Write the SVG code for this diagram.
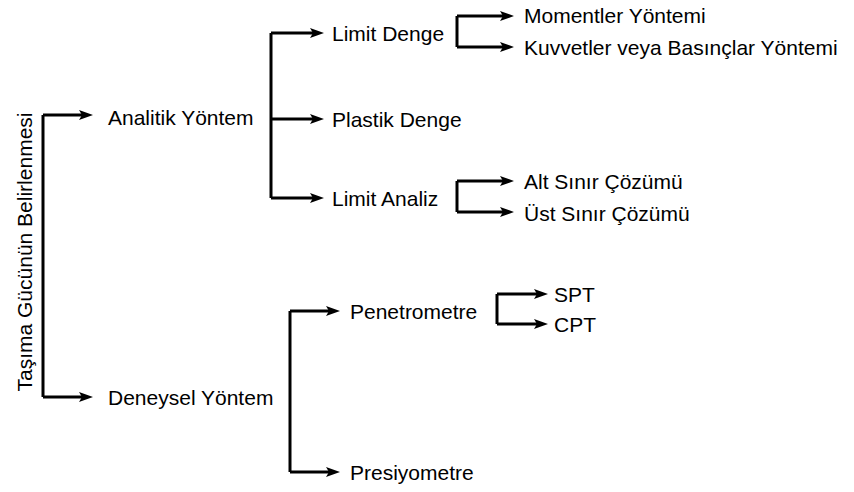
<svg xmlns="http://www.w3.org/2000/svg" width="854" height="492" viewBox="0 0 854 492">
<style>
text{font-family:"Liberation Sans",Arial,sans-serif;font-size:21px;fill:#000}
.c path{fill:none;stroke:#000;stroke-width:3}
.c path.a{marker-end:url(#ah)}
</style>
<defs>
<marker id="ah" markerUnits="userSpaceOnUse" markerWidth="14" markerHeight="10" refX="3" refY="5" orient="auto" overflow="visible"><path d="M0,0 L14,5 L0,10 L3,5 z" fill="#000"/></marker>
</defs>
<rect width="854" height="492" fill="#fff"/>
<g id="connectors" class="c">
<path d="M43,115 V397"/>
<path class="a" d="M43,115 H82"/>
<path class="a" d="M43,397 H82"/>
<path d="M271,33 V198"/>
<path class="a" d="M271,33 H313"/>
<path class="a" d="M271,119 H313"/>
<path class="a" d="M271,198 H313"/>
<path d="M457,16 V47"/>
<path class="a" d="M457,16 H503"/>
<path class="a" d="M457,47 H503"/>
<path d="M457,181 V212"/>
<path class="a" d="M457,181 H503"/>
<path class="a" d="M457,212 H503"/>
<path d="M290,311 V472"/>
<path class="a" d="M290,311 H329"/>
<path class="a" d="M290,472 H329"/>
<path d="M497,294 V324"/>
<path class="a" d="M497,294 H537"/>
<path class="a" d="M497,324 H537"/>
</g>
<g id="root"><text transform="translate(32,252) rotate(-90)" text-anchor="middle">Taşıma Gücünün Belirlenmesi</text></g>
<g id="analitik"><text x="108" y="125">Analitik Yöntem</text></g>
<g id="deneysel"><text x="108" y="405">Deneysel Yöntem</text></g>
<g id="limit-denge"><text x="332" y="41">Limit Denge</text></g>
<g id="plastik-denge"><text x="332" y="127">Plastik Denge</text></g>
<g id="limit-analiz"><text x="332" y="206">Limit Analiz</text></g>
<g id="momentler"><text x="524" y="23">Momentler Yöntemi</text></g>
<g id="kuvvetler"><text x="524" y="55">Kuvvetler veya Basınçlar Yöntemi</text></g>
<g id="alt-sinir"><text x="524" y="189">Alt Sınır Çözümü</text></g>
<g id="ust-sinir"><text x="524" y="221">Üst Sınır Çözümü</text></g>
<g id="penetrometre"><text x="350" y="319">Penetrometre</text></g>
<g id="presiyometre"><text x="350" y="480">Presiyometre</text></g>
<g id="spt"><text x="554" y="302">SPT</text></g>
<g id="cpt"><text x="554" y="332">CPT</text></g>
</svg>
